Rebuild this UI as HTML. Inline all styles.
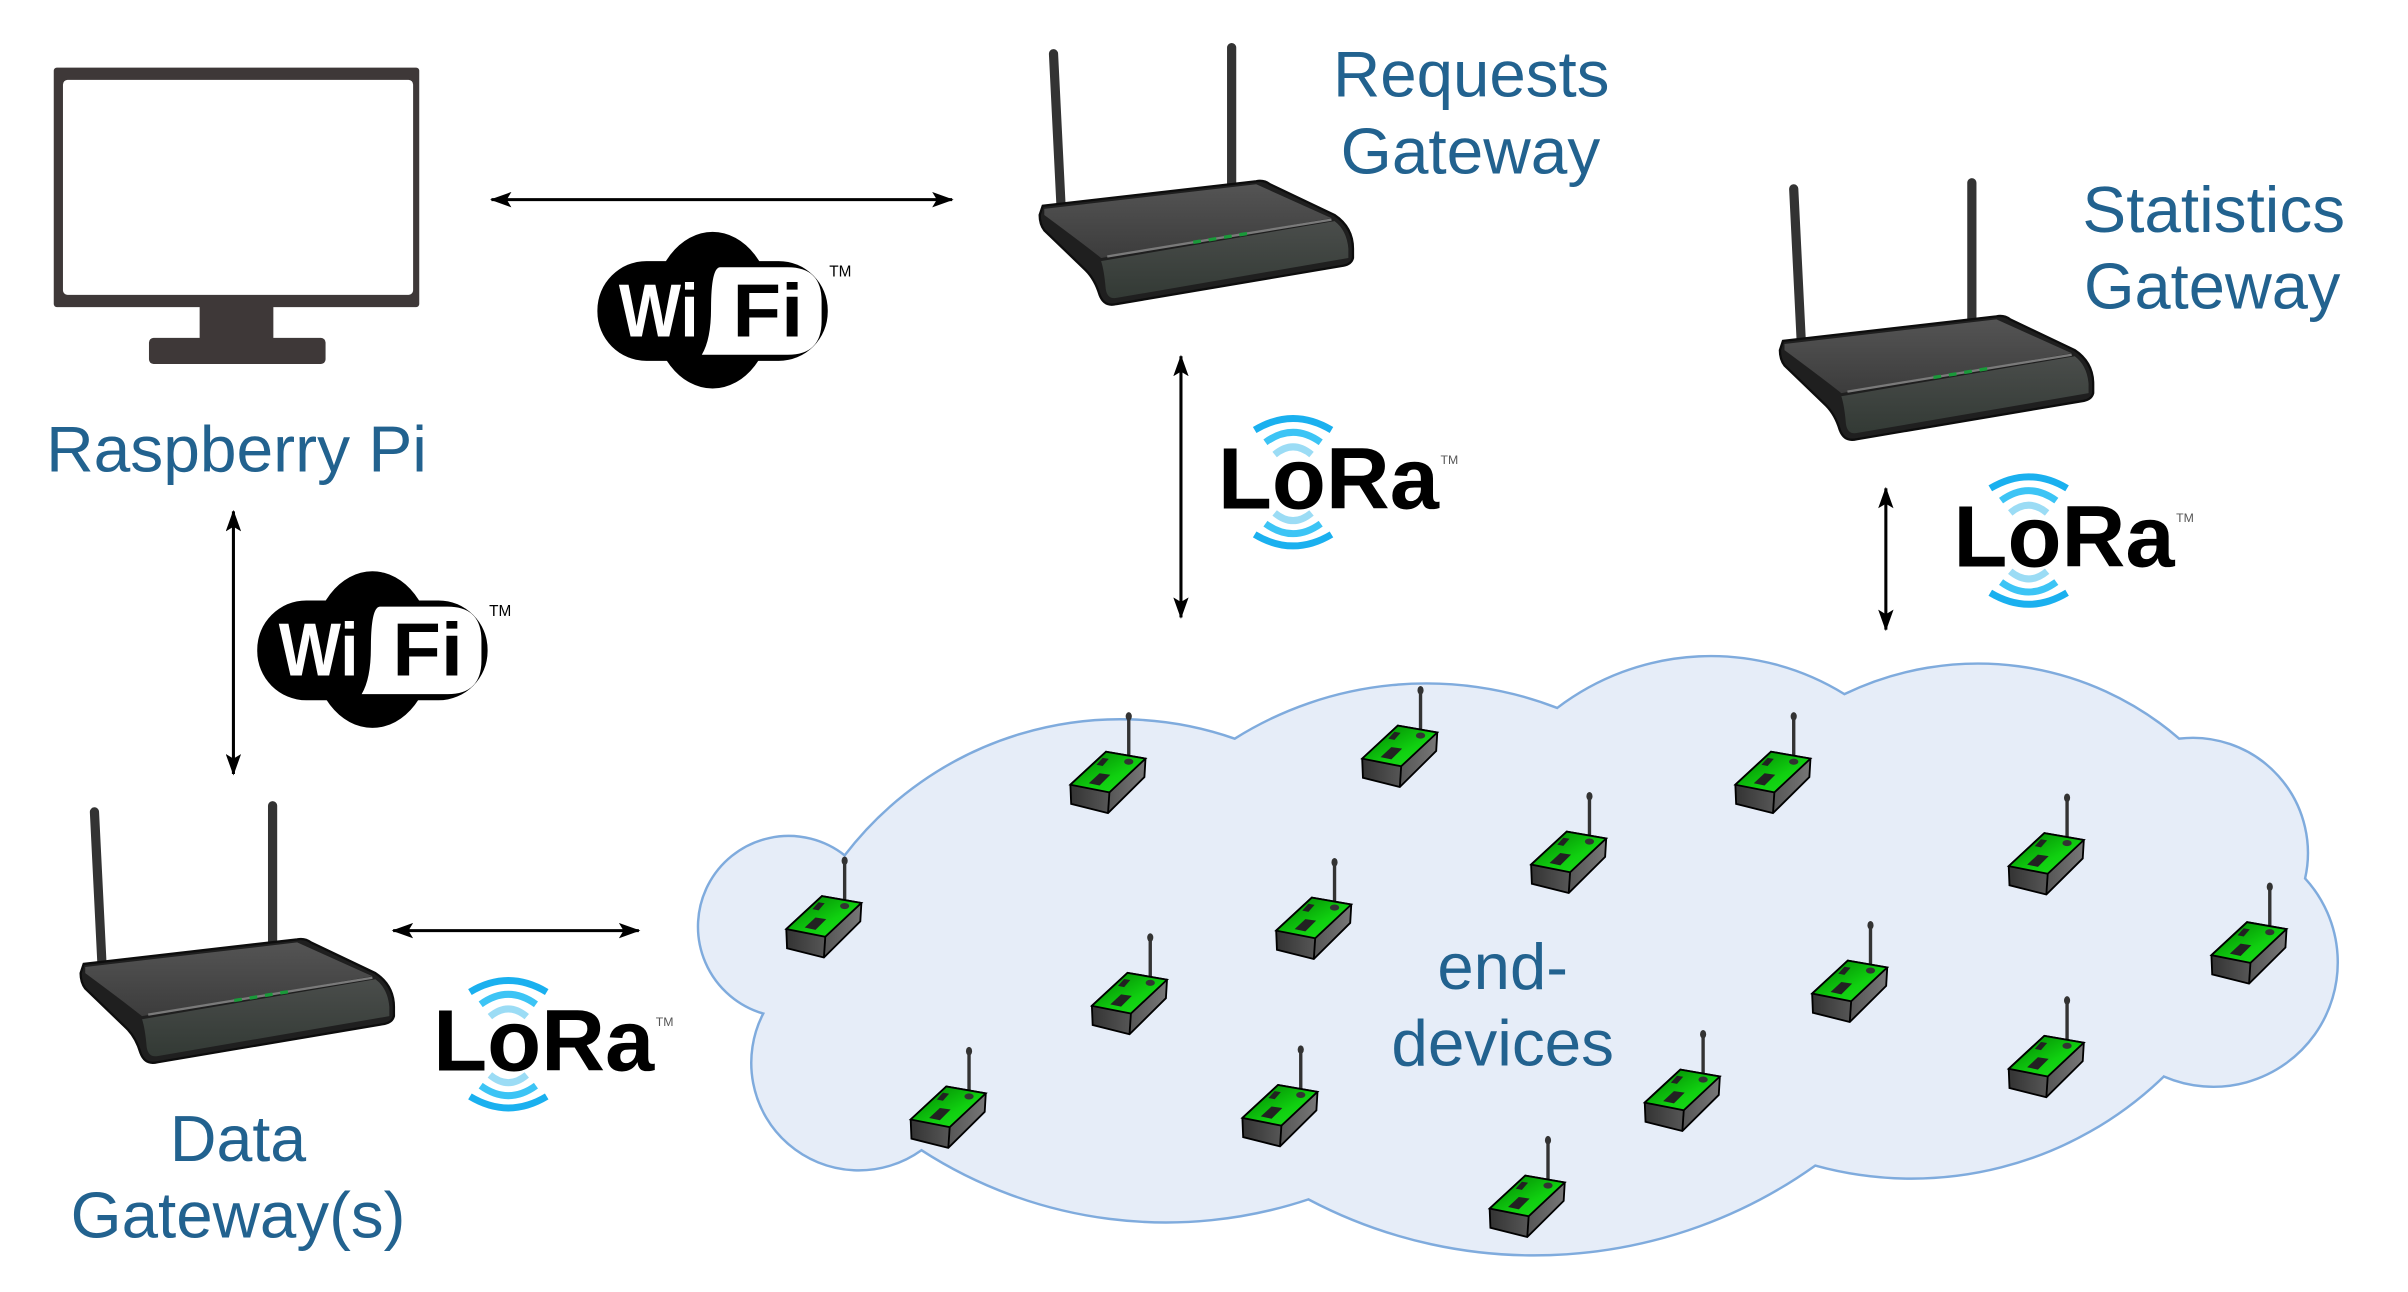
<!DOCTYPE html>
<html><head><meta charset="utf-8"><style>
html,body{margin:0;padding:0;background:#fff;}
svg{display:block;}
.lbl{font-family:"Liberation Sans",sans-serif;fill:#22628f;font-size:42px;}
.lora{font-family:"Liberation Sans",sans-serif;font-weight:bold;font-size:57px;fill:#000;}
.wf{font-family:"Liberation Sans",sans-serif;font-weight:bold;font-size:49px;}
</style></head><body>
<svg width="2408" height="1292" viewBox="0 0 1568 841.33" preserveAspectRatio="none" xmlns="http://www.w3.org/2000/svg">
<defs>
<marker id="ah" markerWidth="14" markerHeight="10" refX="13" refY="5" orient="auto-start-reverse" markerUnits="userSpaceOnUse">
<path d="M0,0 L14,5 L0,10 L3,5 Z" fill="#000"/></marker>
<linearGradient id="gtop" x1="0" y1="0" x2="0" y2="1"><stop offset="0" stop-color="#545454"/><stop offset="1" stop-color="#3c3c3c"/></linearGradient>
<linearGradient id="gfront" x1="0" y1="0" x2="0" y2="1"><stop offset="0" stop-color="#4a4d4b"/><stop offset="1" stop-color="#333a35"/></linearGradient>
<linearGradient id="ggreen" x1="0" y1="0" x2="1" y2="1"><stop offset="0" stop-color="#007a00"/><stop offset="0.6" stop-color="#10d010"/><stop offset="1" stop-color="#20e020"/></linearGradient>
<linearGradient id="ggrey" x1="0" y1="0" x2="1" y2="0"><stop offset="0" stop-color="#333"/><stop offset="1" stop-color="#777"/></linearGradient>
<g id="router">
<line x1="9" y1="-83" x2="14" y2="18" stroke="#333" stroke-width="6" stroke-linecap="round"/>
<line x1="125" y1="-87" x2="125" y2="3" stroke="#333" stroke-width="6" stroke-linecap="round"/>
<path d="M2,16 L141,0 Q146,-1 150,2 L192,22 Q204,30 204,44 L204,50 Q203,54 198,55 L50,80 Q42,82 39,74 Q36,64 30,58 L3,32 Q0,28 0,22 Z" fill="#1f1f1f" stroke="#0d0d0d" stroke-width="1.5"/>
<path d="M3,18 L141,2 L190,24 L40,50 Q30,42 3,22 Z" fill="url(#gtop)"/>
<path d="M40,52 L192,26 Q200,32 201,44 L201,50 L50,76 Q44,77 43,70 Q42,58 40,52 Z" fill="url(#gfront)"/>
<line x1="44" y1="49" x2="190" y2="25" stroke="#7a7a7a" stroke-width="1.5"/>
<g stroke="#1a9a3a" stroke-width="2.2"><line x1="100" y1="39.8" x2="105" y2="39"/><line x1="110" y1="38.2" x2="115" y2="37.4"/><line x1="120" y1="36.5" x2="125" y2="35.7"/><line x1="130" y1="34.9" x2="135" y2="34.1"/></g>
</g>
<g id="dev">
<line x1="0" y1="1" x2="0" y2="31" stroke="#333" stroke-width="2.2"/>
<path d="M-38,46 L-14.8,24.5 L10.9,29 L10.2,41 L-13.5,64.5 L-37.5,58.5 Z" fill="url(#ggrey)" stroke="#000" stroke-width="1.2"/>
<path d="M-38,46 L-14.8,24.5 L10.9,29 L-12.6,51 Z" fill="url(#ggreen)" stroke="#000" stroke-width="1.2"/>
<line x1="-12.6" y1="51" x2="-13.5" y2="64.5" stroke="#000" stroke-width="1.2"/>
<path d="M-21,33 L-17,28.5 L-13,29.2 L-17,33.8 Z" fill="#222"/>
<path d="M-26,45 L-19,38.5 L-12,39.5 L-19,46.5 Z" fill="#222"/>
<ellipse cx="0" cy="31" rx="3" ry="2" fill="#333"/>
<ellipse cx="0" cy="1.5" rx="2" ry="2.8" fill="#333"/>
</g>
<g id="wifi">
<ellipse cx="75" cy="51" rx="39" ry="51" fill="#000"/>
<rect x="0" y="19" width="150" height="65" rx="32" fill="#000"/>
<path d="M80,23 L124,23 Q146,23 146,45 L146,58 Q146,80 124,80 L68,80 Q74,70 74,50 Q74,23 80,23 Z" fill="#fff"/>
<text x="14" y="68" class="wf" fill="#fff" textLength="52" lengthAdjust="spacingAndGlyphs">Wi</text>
<text x="88" y="68" class="wf" fill="#000" textLength="46" lengthAdjust="spacingAndGlyphs">Fi</text>
<text x="151" y="29" font-family="Liberation Sans,sans-serif" font-size="10" fill="#000">TM</text>
</g>
<g id="lorawaves" fill="none" stroke-width="4.5">
<path d="M24,-51 Q49,-66 74,-51" stroke="#1ab0ef"/>
<path d="M31,-43 Q49,-56 67,-43" stroke="#3cc4f5"/>
<path d="M37,-35 Q49,-45 61,-35" stroke="#9bdcf5"/>
<path d="M37,3 Q49,13 61,3" stroke="#9bdcf5"/>
<path d="M31,10 Q49,23 67,10" stroke="#3cc4f5"/>
<path d="M24,17 Q49,32 74,17" stroke="#1ab0ef"/>
</g>
</defs>

<!-- cloud -->
<path d="M550,557 A226,226 0 0 1 804,481 A235,235 0 0 1 1014,461 A165,165 0 0 1 1201,452 A200,200 0 0 1 1419,481 A75,75 0 0 1 1501,572 A81,81 0 0 1 1409,701 A236,236 0 0 1 1182,759 A315,315 0 0 1 852,781 A293,293 0 0 1 600,749 A70,70 0 0 1 497,660 A59,59 0 1 1 550,557 Z" fill="#e6edf8" stroke="#7fabdd" stroke-width="1.6"/>

<!-- monitor -->
<rect x="35" y="44" width="238" height="156" rx="2" fill="#3e3838"/>
<rect x="41" y="52" width="228" height="140" rx="3" fill="#fff"/>
<rect x="130" y="199" width="48" height="23" fill="#3e3838"/>
<rect x="97" y="220" width="115" height="17" rx="3" fill="#3e3838"/>
<text x="30" y="307" class="lbl" textLength="248" lengthAdjust="spacingAndGlyphs">Raspberry Pi</text>

<!-- arrows -->
<g stroke="#000" stroke-width="2" marker-start="url(#ah)" marker-end="url(#ah)">
<line x1="320" y1="130" x2="620" y2="130"/>
<line x1="152" y1="333" x2="152" y2="504"/>
<line x1="769" y1="232" x2="769" y2="402"/>
<line x1="1228" y1="318" x2="1228" y2="410"/>
<line x1="256" y1="606" x2="416" y2="606"/>
</g>

<use href="#wifi" x="389" y="151"/>
<use href="#wifi" x="167.5" y="372"/>

<!-- routers -->
<use href="#router" x="677" y="118"/>
<use href="#router" x="1159" y="206"/>
<use href="#router" x="52.5" y="611.7"/>

<text x="868" y="63" class="lbl" textLength="180" lengthAdjust="spacingAndGlyphs">Requests</text>
<text x="873" y="113" class="lbl" textLength="169" lengthAdjust="spacingAndGlyphs">Gateway</text>
<text x="1356" y="151" class="lbl" textLength="171" lengthAdjust="spacingAndGlyphs">Statistics</text>
<text x="1357" y="201" class="lbl" textLength="167" lengthAdjust="spacingAndGlyphs">Gateway</text>
<text x="155" y="756" class="lbl" text-anchor="middle">Data</text>
<text x="46" y="806" class="lbl" textLength="218" lengthAdjust="spacingAndGlyphs">Gateway(s)</text>

<!-- lora logos -->
<g transform="translate(793,331)"><use href="#lorawaves"/><text x="0" y="0" class="lora" textLength="144" lengthAdjust="spacingAndGlyphs">LoRa</text><text x="145" y="-29" font-family="Liberation Sans,sans-serif" font-size="8" fill="#555">TM</text></g>
<g transform="translate(1272,369)"><use href="#lorawaves"/><text x="0" y="0" class="lora" textLength="144" lengthAdjust="spacingAndGlyphs">LoRa</text><text x="145" y="-29" font-family="Liberation Sans,sans-serif" font-size="8" fill="#555">TM</text></g>
<g transform="translate(282,697)"><use href="#lorawaves"/><text x="0" y="0" class="lora" textLength="144" lengthAdjust="spacingAndGlyphs">LoRa</text><text x="145" y="-29" font-family="Liberation Sans,sans-serif" font-size="8" fill="#555">TM</text></g>

<!-- end devices -->
<use href="#dev" x="735" y="465"/>
<use href="#dev" x="925" y="448"/>
<use href="#dev" x="1168" y="465"/>
<use href="#dev" x="1035" y="517"/>
<use href="#dev" x="1346" y="518"/>
<use href="#dev" x="550" y="559"/>
<use href="#dev" x="869" y="560"/>
<use href="#dev" x="1478" y="576"/>
<use href="#dev" x="749" y="609"/>
<use href="#dev" x="1218" y="601"/>
<use href="#dev" x="631" y="683"/>
<use href="#dev" x="847" y="682"/>
<use href="#dev" x="1109" y="672"/>
<use href="#dev" x="1346" y="650"/>
<use href="#dev" x="1008" y="741"/>

<text x="936" y="644" class="lbl" textLength="85" lengthAdjust="spacingAndGlyphs">end-</text>
<text x="906" y="694" class="lbl" textLength="145" lengthAdjust="spacingAndGlyphs">devices</text>
</svg>
</body></html>
